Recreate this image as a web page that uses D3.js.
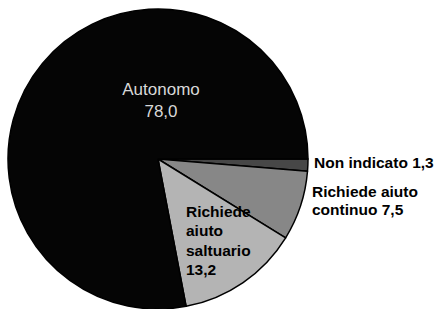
<!DOCTYPE html>
<html>
<head>
<meta charset="utf-8">
<script src="https://cdn.jsdelivr.net/npm/d3@7"></script>
<style>
  body { margin: 0; background: #fff; }
  text { font-family: "Liberation Sans", Arial, sans-serif; }
</style>
</head>
<body>
<script>
var width = 439,
    height = 309;

// slices clockwise from 3 o'clock
var categories = ['Non indicato', 'Richiede aiuto continuo', 'Richiede aiuto saltuario', 'Autonomo'];
var values = [1.3, 7.5, 13.2, 78.0];
var valueLabels = ['1,3', '7,5', '13,2', '78,0'];
var colors = ['#474747', '#878787', '#b4b4b4', '#050505'];

var cx = 158,
    cy = 159,
    radius = 150;

var svg = d3.select('body')
  .append('svg')
  .attr('width', width)
  .attr('height', height);

var pie = d3.pie()
  .sort(null)
  .startAngle(Math.PI / 2)
  .endAngle(Math.PI / 2 + 2 * Math.PI)
  .value(function (d) { return d; });

var arc = d3.arc()
  .innerRadius(0)
  .outerRadius(radius);

var g = svg.append('g')
  .attr('transform', 'translate(' + cx + ',' + cy + ')');

g.selectAll('path')
  .data(pie(values))
  .enter().append('path')
  .attr('d', arc)
  .attr('fill', function (d, i) { return colors[i]; })
  .attr('stroke', '#000')
  .attr('stroke-width', 1.5)
  .attr('stroke-linejoin', 'round');

// Autonomo, inside the black slice
var auto = g.append('text')
  .attr('text-anchor', 'middle')
  .attr('fill', '#d8d8d8')
  .style('font-size', '17px');
auto.append('tspan').attr('x', 3).attr('y', -64).text(categories[3]);
auto.append('tspan').attr('x', 3).attr('y', -42).text(valueLabels[3]);

// saltuario, inside the light slice
var saltLines = ['Richiede', 'aiuto', 'saltuario', valueLabels[2]];
g.append('text')
  .attr('fill', '#000')
  .style('font-size', '15.5px')
  .style('font-weight', 'bold')
  .selectAll('tspan')
  .data(saltLines)
  .enter().append('tspan')
  .attr('x', 28)
  .attr('y', function (d, i) { return 58 + i * 19.3; })
  .text(function (d) { return d; });

// labels outside on the right
g.append('text')
  .attr('x', radius + 6)
  .attr('y', 9)
  .attr('fill', '#000')
  .style('font-size', '15.5px')
  .style('font-weight', 'bold')
  .text(categories[0] + ' ' + valueLabels[0]);

var cont = g.append('text')
  .attr('fill', '#000')
  .style('font-size', '15.5px')
  .style('font-weight', 'bold');
cont.append('tspan').attr('x', radius + 4).attr('y', 38).text('Richiede aiuto');
cont.append('tspan').attr('x', radius + 4).attr('y', 56).text('continuo ' + valueLabels[1]);
</script>
</body>
</html>
